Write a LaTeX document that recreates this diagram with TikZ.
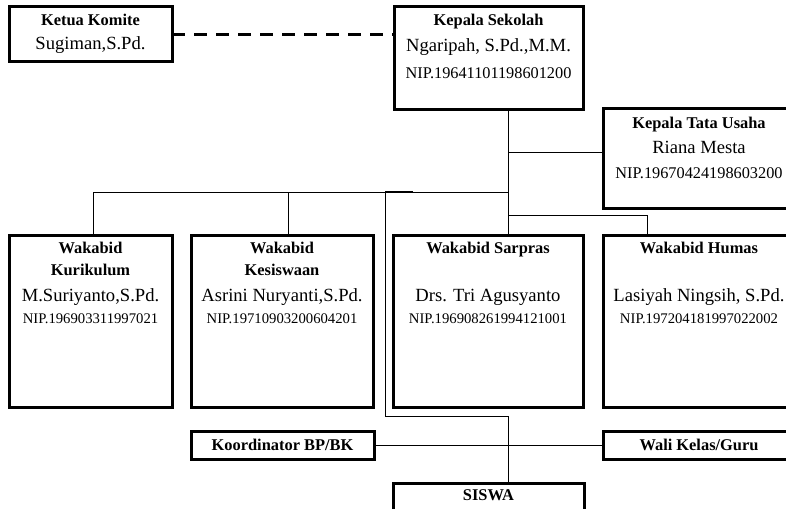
\documentclass[tikz,border=0pt]{standalone}
\usepackage{fontspec}
\setmainfont{Liberation Serif}
\usepackage{tikz}
\usetikzlibrary{positioning}
\newcommand{\nama}[1]{{\fontsize{18.6}{22}\selectfont #1}}
\newcommand{\nipbesar}[1]{{\fontsize{16.3}{22}\selectfont NIP.#1}}
\newcommand{\nipkecil}[1]{{\fontsize{14.7}{22}\selectfont NIP.#1}}

\begin{document}
\begin{tikzpicture}[x=1pt, y=-1pt, every node/.style={font=\fontsize{16.4}{22}\selectfont},
  box/.style={draw, line width=3pt, outer sep=0pt, inner xsep=2pt, inner ysep=0pt, anchor=north west, align=center, minimum width=#1},
  wakabid/.style={box=#1, text height=88pt, text depth=84pt},
  link/.style={line width=1pt},
  dashlink/.style={line width=3pt, dash pattern=on 13pt off 9pt}]
  \useasboundingbox (0,0) rectangle (786,508);
  \clip (0,0) rectangle (786,508);
  \node[box=163pt, text height=42.5pt, text depth=12.5pt] (komite) at (9,7) {\textbf{Ketua Komite}\\[2pt]\nama{Sugiman,S.Pd.}};
  \node[box=189pt, text height=71.5pt, text depth=31.5pt] (kasek) at (394,7) {\textbf{Kepala Sekolah}\\[4pt]\nama{Ngaripah, S.Pd.,M.M.}\\[5pt]\nipbesar{19641101198601200}};
  \node[box=192pt, text height=69.5pt, text depth=29.5pt] (ktu) at (603,109) {\textbf{Kepala Tata Usaha}\\[3pt]\nama{Riana Mesta}\\[3pt]\nipbesar{19670424198603200}};
  \node[wakabid=163pt] (kurikulum) at (9,235) {\textbf{Wakabid}\\\textbf{Kurikulum}\\[4pt]\nama{M.Suriyanto,S.Pd.}\\\nipkecil{196903311997021}};
  \node[wakabid=182pt, right=19pt of kurikulum.north east, anchor=north west] (kesiswaan) {\textbf{Wakabid}\\\textbf{Kesiswaan}\\[4pt]\nama{Asrini Nuryanti,S.Pd.}\\\nipkecil{19710903200604201}};
  \node[wakabid=190pt, right=20pt of kesiswaan.north east, anchor=north west] (sarpras) {\textbf{Wakabid Sarpras}\\[26pt]\nama{Drs. Tri Agusyanto}\\\nipkecil{196908261994121001}};
  \node[wakabid=192pt, right=20pt of sarpras.north east, anchor=north west] (humas) {\textbf{Wakabid Humas}\\[26pt]\nama{Lasiyah Ningsih, S.Pd.}\\\nipkecil{197204181997022002}};
  \node[box=183pt, text height=19.3pt, text depth=8.7pt, below=24pt of kesiswaan.south west, anchor=north west] (koord) {\textbf{Koordinator BP/BK}};
  \node[box=192pt, text height=19.3pt, text depth=8.7pt, below=24pt of humas.south west, anchor=north west] (wali) {\textbf{Wali Kelas/Guru}};
  \node[box=191pt, text height=17.5pt, text depth=11.5pt, below=76pt of sarpras.south west, anchor=north west] (siswa) {\textbf{SISWA}};
  % garis komando
  \coordinate (spine) at (508,152);
  \coordinate (bar) at (508,192);
  \coordinate (bar2) at (508,215);
  \coordinate (tail) at (413,191);
  \coordinate (drop) at (385,416);
  \draw[dashlink] (komite.east) -- (komite.east -| kasek.west);
  \draw[link] (kasek.south -| spine) -- (sarpras.north -| spine);
  \draw[link] (spine) -- (spine -| ktu.west);
  \draw[link] (bar) -| ([xshift=84pt]kurikulum.north west);
  \draw[link] ([xshift=97pt]kesiswaan.north west |- bar) -- ([xshift=97pt]kesiswaan.north west);
  \draw[link] (bar2) -| ([xshift=44pt]humas.north west);
  \draw[link] (tail) -| (drop) -| (siswa.north -| spine);
  \draw[link] (koord) -- (wali);
\end{tikzpicture}
\end{document}
